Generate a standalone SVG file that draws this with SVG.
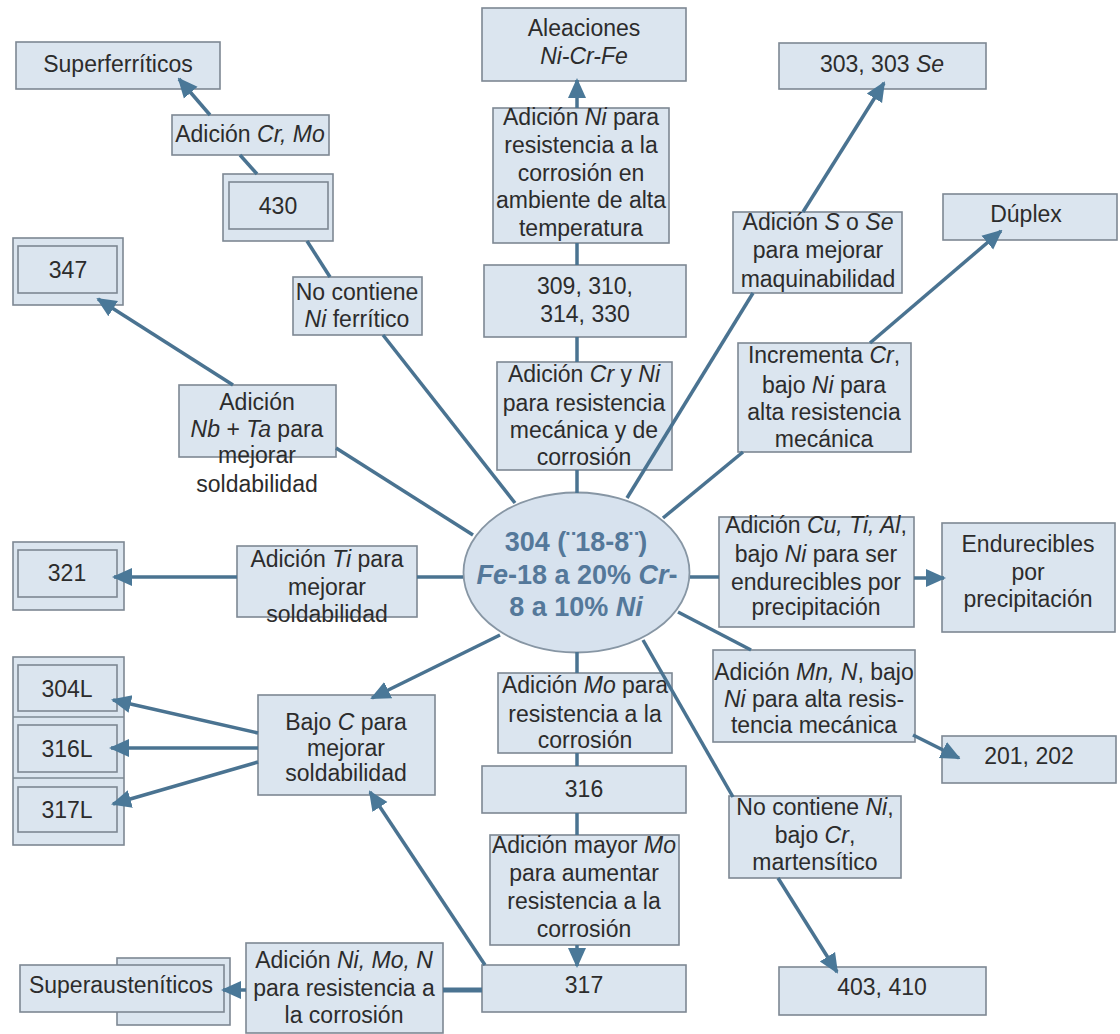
<svg xmlns="http://www.w3.org/2000/svg" width="1120" height="1034" viewBox="0 0 1120 1034">
<defs>
<marker id="ah" viewBox="0 0 10 10" refX="9" refY="5" markerWidth="20" markerHeight="20" markerUnits="userSpaceOnUse" orient="auto">
<path d="M0,0.5 L10,5 L0,9.5 z" fill="#4a7898"/>
</marker>
<style>
.b{fill:#dbe5ef;stroke:#7d8893;stroke-width:1.6}
.t{font-family:"Liberation Sans",Arial,sans-serif;font-size:23px;fill:#2c2c2c;text-anchor:middle}
.i{font-style:italic}
.c{fill:none;stroke:#4a7391;stroke-width:3.5}
.a{marker-end:url(#ah)}
.e{fill:#d7e2ee;stroke:#8796a4;stroke-width:1.8}
.et{font-family:"Liberation Sans",Arial,sans-serif;font-size:27px;font-weight:bold;fill:#54789a;text-anchor:middle}
</style>
</defs>
<rect width="1120" height="1034" fill="#ffffff"/>

<g id="n-superferriticos">
<rect class="b" x="16" y="42" width="204" height="47"/>
<text class="t" x="118" y="72">Superferríticos</text>
</g>
<g id="l-crmo">
<rect class="b" x="172" y="115" width="157" height="40"/>
<text class="t" x="250" y="142">Adición <tspan class="i">Cr, Mo</tspan></text>
</g>
<g id="n-430">
<rect class="b" x="223" y="174" width="110" height="67"/>
<rect class="b" x="229" y="182" width="99" height="47"/>
<text class="t" x="278" y="214">430</text>
</g>
<g id="n-347">
<rect class="b" x="13" y="238" width="110" height="67"/>
<rect class="b" x="18" y="246" width="99" height="47"/>
<text class="t" x="68" y="278">347</text>
</g>
<g id="n-aleaciones">
<rect class="b" x="482" y="8" width="204" height="73"/>
<text class="t" x="584" y="36">Aleaciones</text>
<text class="t i" x="584" y="64">Ni-Cr-Fe</text>
</g>
<g id="l-ni">
<rect class="b" x="493" y="108" width="176" height="135"/>
<text class="t" x="581" y="125">Adición <tspan class="i">Ni</tspan> para</text>
<text class="t" x="581" y="153">resistencia a la</text>
<text class="t" x="581" y="181">corrosión en</text>
<text class="t" x="581" y="208">ambiente de alta</text>
<text class="t" x="581" y="236">temperatura</text>
</g>
<g id="n-309">
<rect class="b" x="484" y="265" width="202" height="72"/>
<text class="t" x="585" y="294">309, 310,</text>
<text class="t" x="585" y="322">314, 330</text>
</g>
<g id="n-303">
<rect class="b" x="779" y="43" width="207" height="46"/>
<text class="t" x="882" y="72">303, 303 <tspan class="i">Se</tspan></text>
</g>
<g id="l-sse">
<rect class="b" x="733" y="212" width="169" height="81"/>
<text class="t" x="818" y="230">Adición <tspan class="i">S</tspan> o <tspan class="i">Se</tspan></text>
<text class="t" x="818" y="258">para mejorar</text>
<text class="t" x="818" y="287">maquinabilidad</text>
</g>
<g id="n-duplex">
<rect class="b" x="943" y="194" width="174" height="46"/>
<text class="t" x="1026" y="222">Dúplex</text>
</g>
<g id="l-ferritico">
<rect class="b" x="293" y="277" width="129" height="58"/>
<text class="t" x="357" y="300">No contiene</text>
<text class="t" x="357" y="327"><tspan class="i">Ni</tspan> ferrítico</text>
</g>
<g id="l-nbta">
<rect class="b" x="179" y="385" width="157" height="72"/>
<text class="t" x="257" y="410">Adición</text>
<text class="t" x="257" y="437"><tspan class="i">Nb</tspan> + <tspan class="i">Ta</tspan> para</text>
<text class="t" x="257" y="463">mejorar</text>
<text class="t" x="257" y="492">soldabilidad</text>
</g>
<g id="l-ti">
<rect class="b" x="237" y="546" width="180" height="71"/>
<text class="t" x="327" y="567">Adición <tspan class="i">Ti</tspan> para</text>
<text class="t" x="327" y="595">mejorar</text>
<text class="t" x="327" y="622">soldabilidad</text>
</g>
<g id="n-321">
<rect class="b" x="13" y="542" width="111" height="68"/>
<rect class="b" x="18" y="550" width="99" height="47"/>
<text class="t" x="67" y="581">321</text>
</g>
<g id="l-crni">
<rect class="b" x="497" y="362" width="175" height="108"/>
<text class="t" x="584" y="382">Adición <tspan class="i">Cr</tspan> y <tspan class="i">Ni</tspan></text>
<text class="t" x="584" y="411">para resistencia</text>
<text class="t" x="584" y="438">mecánica y de</text>
<text class="t" x="584" y="465">corrosión</text>
</g>
<g id="n-304">
<ellipse class="e" cx="576.5" cy="572.5" rx="113" ry="80"/>
<text class="et" x="576" y="551">304 (¨18-8¨)</text>
<text class="et" x="577" y="584"><tspan class="i">Fe</tspan>-18 a 20% <tspan class="i">Cr</tspan>-</text>
<text class="et" x="576" y="616">8 a 10% <tspan class="i">Ni</tspan></text>
</g>
<g id="l-incrementa">
<rect class="b" x="738" y="343" width="173" height="109"/>
<text class="t" x="824" y="363">Incrementa <tspan class="i">Cr</tspan>,</text>
<text class="t" x="824" y="393">bajo <tspan class="i">Ni</tspan> para</text>
<text class="t" x="824" y="420">alta resistencia</text>
<text class="t" x="824" y="447">mecánica</text>
</g>
<g id="l-cutial">
<rect class="b" x="719" y="517" width="195" height="110"/>
<text class="t" x="816" y="533">Adición <tspan class="i">Cu, Ti, Al</tspan>,</text>
<text class="t" x="816" y="562">bajo <tspan class="i">Ni</tspan> para ser</text>
<text class="t" x="816" y="590">endurecibles por</text>
<text class="t" x="816" y="615">precipitación</text>
</g>
<g id="n-endurecibles">
<rect class="b" x="942" y="523" width="173" height="109"/>
<text class="t" x="1028" y="552">Endurecibles</text>
<text class="t" x="1028" y="580">por</text>
<text class="t" x="1028" y="607">precipitación</text>
</g>
<g id="n-lgrades">
<rect class="b" x="13" y="657" width="111" height="188"/>
<line x1="13" y1="717" x2="124" y2="717" stroke="#7d8893" stroke-width="1.6"/>
<line x1="13" y1="778" x2="124" y2="778" stroke="#7d8893" stroke-width="1.6"/>
<rect class="b" x="18" y="665" width="99" height="46"/>
<rect class="b" x="18" y="725" width="99" height="47"/>
<rect class="b" x="18" y="787" width="99" height="45"/>
<text class="t" x="67" y="697">304L</text>
<text class="t" x="67" y="757">316L</text>
<text class="t" x="67" y="818">317L</text>
</g>
<g id="l-bajoc">
<rect class="b" x="258" y="695" width="177" height="100"/>
<text class="t" x="346" y="730">Bajo <tspan class="i">C</tspan> para</text>
<text class="t" x="346" y="756">mejorar</text>
<text class="t" x="346" y="781">soldabilidad</text>
</g>
<g id="n-superausteniticos">
<rect class="b" x="117" y="958" width="113" height="67"/>
<rect class="b" x="20" y="965" width="204" height="47"/>
<text class="t" x="121" y="993">Superausteníticos</text>
</g>
<g id="l-nimon">
<rect class="b" x="246" y="943" width="197" height="90"/>
<text class="t" x="344" y="968">Adición <tspan class="i">Ni, Mo, N</tspan></text>
<text class="t" x="344" y="996">para resistencia a</text>
<text class="t" x="344" y="1023">la corrosión</text>
</g>
<g id="l-mo">
<rect class="b" x="498" y="673" width="174" height="80"/>
<text class="t" x="585" y="693">Adición <tspan class="i">Mo</tspan> para</text>
<text class="t" x="585" y="722">resistencia a la</text>
<text class="t" x="585" y="748">corrosión</text>
</g>
<g id="n-316">
<rect class="b" x="482" y="766" width="204" height="47"/>
<text class="t" x="584" y="797">316</text>
</g>
<g id="l-mayormo">
<rect class="b" x="490" y="835" width="189" height="110"/>
<text class="t" x="584" y="853">Adición mayor <tspan class="i">Mo</tspan></text>
<text class="t" x="584" y="881">para aumentar</text>
<text class="t" x="584" y="909">resistencia a la</text>
<text class="t" x="584" y="937">corrosión</text>
</g>
<g id="n-317">
<rect class="b" x="482" y="965" width="204" height="47"/>
<text class="t" x="584" y="993">317</text>
</g>
<g id="l-mnn">
<rect class="b" x="713" y="650" width="202" height="92"/>
<text class="t" x="814" y="680">Adición <tspan class="i">Mn, N</tspan>, bajo</text>
<text class="t" x="814" y="707"><tspan class="i">Ni</tspan> para alta resis-</text>
<text class="t" x="814" y="733">tencia mecánica</text>
</g>
<g id="n-201">
<rect class="b" x="942" y="736" width="174" height="47"/>
<text class="t" x="1029" y="764">201, 202</text>
</g>
<g id="l-martensitico">
<rect class="b" x="729" y="796" width="172" height="82"/>
<text class="t" x="815" y="815">No contiene <tspan class="i">Ni</tspan>,</text>
<text class="t" x="815" y="843">bajo <tspan class="i">Cr</tspan>,</text>
<text class="t" x="815" y="870">martensítico</text>
</g>
<g id="n-403">
<rect class="b" x="779" y="967" width="207" height="48"/>
<text class="t" x="882" y="995">403, 410</text>
</g>

<g id="connectors">
<line class="c" x1="257" y1="174" x2="240" y2="155"/>
<line class="c a" x1="210" y1="115" x2="179" y2="79"/>
<line class="c" x1="330" y1="277" x2="307" y2="241"/>
<line class="c" x1="515" y1="503" x2="383" y2="335"/>
<line class="c a" x1="233" y1="385" x2="98" y2="299"/>
<line class="c" x1="473" y1="535" x2="336" y2="448"/>
<line class="c" x1="463" y1="577" x2="417" y2="577"/>
<line class="c a" x1="237" y1="577" x2="114" y2="577"/>
<line class="c a" x1="500" y1="635" x2="372" y2="698"/>
<line class="c a" x1="258" y1="733" x2="113" y2="700"/>
<line class="c a" x1="258" y1="748" x2="111" y2="748"/>
<line class="c a" x1="258" y1="762" x2="113" y2="804"/>
<line class="c a" x1="485" y1="965" x2="370" y2="792"/>
<line class="c" x1="482" y1="990" x2="443" y2="990" style="stroke-width:5"/>
<line class="c a" x1="246" y1="990" x2="223" y2="990"/>
<line class="c" x1="577" y1="493" x2="577" y2="470"/>
<line class="c" x1="577" y1="362" x2="577" y2="337"/>
<line class="c" x1="577" y1="265" x2="577" y2="243"/>
<line class="c a" x1="577" y1="108" x2="577" y2="80"/>
<line class="c" x1="577" y1="652" x2="577" y2="673"/>
<line class="c" x1="577" y1="753" x2="577" y2="766"/>
<line class="c" x1="577" y1="813" x2="577" y2="835"/>
<line class="c a" x1="577" y1="945" x2="577" y2="966"/>
<line class="c" x1="627" y1="498" x2="753" y2="293"/>
<line class="c a" x1="803" y1="212" x2="884" y2="83"/>
<line class="c" x1="663" y1="518" x2="743" y2="452"/>
<line class="c a" x1="870" y1="343" x2="1001" y2="231"/>
<line class="c" x1="690" y1="577" x2="719" y2="577"/>
<line class="c a" x1="914" y1="578" x2="944" y2="578"/>
<line class="c" x1="678" y1="612" x2="751" y2="650"/>
<line class="c a" x1="913" y1="735" x2="959" y2="758"/>
<line class="c" x1="643" y1="640" x2="733" y2="797"/>
<line class="c a" x1="778" y1="878" x2="837" y2="972"/>
</g>
</svg>
